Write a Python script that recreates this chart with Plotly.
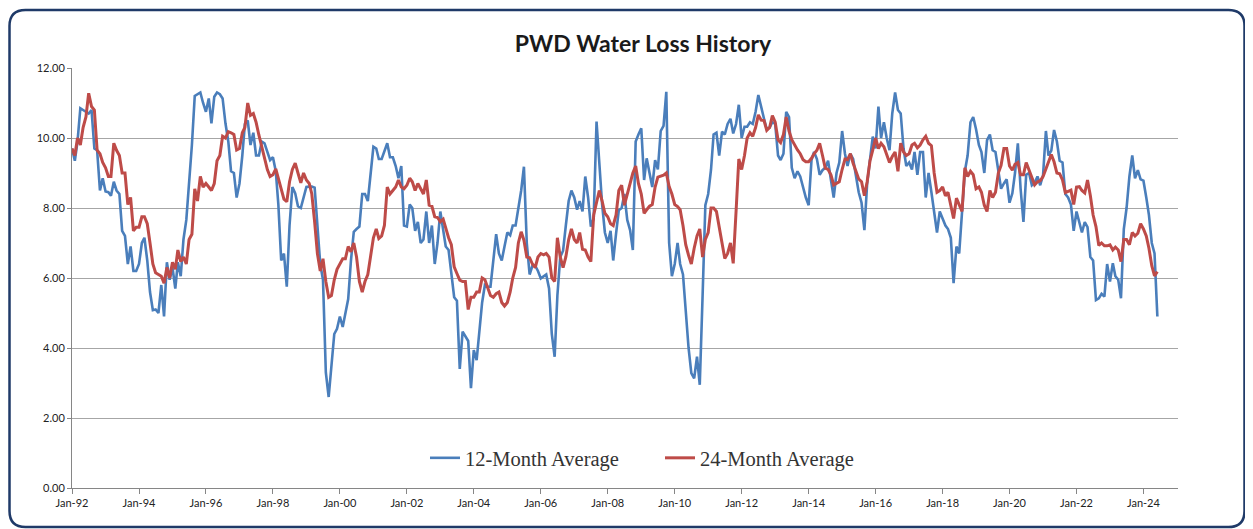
import pandas as pd
import plotly.graph_objects as go

# The page body has an 8px margin, so figure coordinates = screen coordinates - 8
OFF = 8
W, H = 1245, 521
ML, MR, MT, MB = 64, 75, 60, 41

dates = pd.date_range("1992-01-01", periods=390, freq="MS")

twelve_month = [
    9.7, 9.35, 9.9, 10.85, 10.8, 10.75, 10.7, 10.8, 9.7, 9.65, 8.5, 8.85, 8.47, 8.45, 8.35, 8.75, 8.5, 8.4, 7.35, 7.2,
    6.4, 6.9, 6.2, 6.2, 6.4, 7.0, 7.15, 6.5, 5.6, 5.08, 5.1, 5.0, 5.8, 4.9, 6.45, 5.95, 6.3, 5.7,
    6.45, 6.05, 7.1, 7.66, 8.7, 9.8, 11.2, 11.25, 11.3, 11.0, 10.75, 11.13, 10.42, 11.18, 11.3, 11.25, 11.13, 10.42,
    9.9, 9.05, 9.0, 8.3, 8.7, 9.5, 10.4, 10.5, 9.8, 10.15, 9.5, 9.5, 9.9, 9.85, 9.6, 9.37, 9.45,
    9.05, 8.1, 6.5, 6.7, 5.75, 7.5, 8.6, 8.42, 8.05, 8.0, 8.28, 8.6, 8.61, 8.61, 8.58, 7.6, 6.4, 5.95, 3.3, 2.6,
    3.4, 4.4, 4.55, 4.9, 4.6, 5.0, 5.4, 6.5, 7.32, 7.4, 7.47, 8.4, 8.4, 8.2, 8.9, 9.75,
    9.7, 9.4, 9.4, 9.6, 9.85, 9.45, 9.45, 9.2, 8.85, 9.2, 7.5, 7.47, 8.1, 8.0, 7.35, 7.6, 7.0, 7.1, 7.9, 7.0,
    7.5, 6.4, 7.0, 7.9, 7.35, 6.9, 6.8, 6.2, 5.45, 5.35, 3.4, 4.47, 4.35, 4.2, 2.85, 3.94,
    3.65, 4.4, 5.3, 5.8, 5.75, 5.75, 6.6, 7.25, 6.7, 6.5, 6.9, 7.3, 7.22, 7.5, 7.5, 8.0, 8.5, 9.18, 7.0, 6.1,
    6.35, 6.35, 6.2, 5.99, 6.05, 6.1, 5.7, 4.4, 3.75, 5.5, 6.6, 6.78, 7.5, 8.2, 8.5, 8.3,
    7.95, 8.2, 7.9, 8.9, 8.3, 7.47, 7.7, 10.47, 9.3, 8.1, 7.3, 7.0, 7.35, 6.5, 7.27, 7.94, 8.0, 8.4, 7.66, 7.37,
    6.8, 9.9, 10.1, 10.28, 8.8, 9.42, 9.0, 8.6, 9.37, 9.1, 10.2, 10.35, 11.32, 7.0, 6.05, 6.4,
    7.0, 6.4, 6.1, 5.1, 4.0, 3.28, 3.13, 3.75, 2.95, 5.5, 8.08, 8.4, 9.1, 10.1, 10.15, 9.5, 10.18, 10.1, 10.4, 10.55,
    10.13, 10.4, 10.95, 10.0, 10.32, 10.32, 10.45, 10.4, 10.75, 11.23, 10.85, 10.55, 10.25, 10.3, 10.45, 10.4,
    9.5, 9.37, 9.55, 10.75, 10.6, 9.15, 8.85, 9.05, 8.9, 8.55, 8.3, 8.08, 9.37, 9.6, 9.4, 8.95, 9.08, 9.15, 9.35, 8.8,
    8.3, 9.0, 9.3, 10.2, 9.55, 9.2, 9.55, 9.4, 8.95, 8.45, 8.15, 7.37, 8.7, 9.4, 10.04, 9.7,
    10.9, 10.0, 10.45, 10.0, 9.65, 10.7, 11.3, 10.8, 10.7, 9.7, 9.2, 9.3, 9.1, 9.6, 8.95, 9.6, 9.6, 8.3, 9.0, 8.45,
    7.85, 7.3, 7.9, 7.7, 7.5, 7.4, 7.15, 5.85, 6.9, 6.7, 7.8, 9.05, 9.5, 10.45, 10.6, 10.25,
    9.8, 9.6, 9.0, 9.94, 10.1, 9.65, 9.6, 9.04, 8.55, 8.7, 8.82, 8.15, 8.42, 9.0, 9.85, 8.55, 7.6, 8.95, 9.0, 8.65,
    8.72, 8.9, 8.65, 8.94, 10.2, 9.5, 9.64, 10.23, 9.9, 9.35, 9.3, 8.4, 8.3, 8.1, 7.35, 7.9,
    7.55, 7.3, 7.6, 7.45, 6.6, 6.5, 5.37, 5.42, 5.55, 5.47, 6.4, 5.9, 6.42, 6.05, 5.95, 5.42, 7.4, 8.0, 8.9, 9.5,
    8.85, 9.08, 8.82, 8.78, 8.3, 7.8, 7.0, 6.7, 4.9,
]

twenty_four_month = [
    9.7, 9.5, 10.0, 9.8, 10.3, 10.6, 11.28, 10.9, 10.8, 9.65, 9.55, 9.3, 9.15, 8.9, 8.9, 9.85, 9.65, 9.5, 9.0, 9.0,
    8.1, 8.3, 7.35, 7.45, 7.45, 7.75, 7.75, 7.55, 7.0, 6.4, 6.15, 6.1, 6.05, 5.85, 6.3, 6.0, 6.45, 6.25,
    6.8, 6.47, 6.6, 6.4, 7.1, 7.25, 8.55, 8.2, 8.9, 8.6, 8.7, 8.6, 8.5, 8.7, 9.35, 9.5, 10.05, 10.0, 10.18, 10.15,
    10.1, 9.66, 9.7, 10.15, 10.3, 11.0, 10.65, 10.7, 10.45, 10.08, 9.75, 9.45, 9.1, 8.9, 8.95,
    9.12, 8.85, 8.6, 8.25, 8.18, 8.75, 9.1, 9.28, 9.0, 8.72, 9.0, 8.8, 8.7, 8.4, 7.6, 6.7, 6.2, 6.55, 5.9, 5.45,
    5.5, 5.95, 6.25, 6.4, 6.55, 6.55, 6.9, 6.75, 7.0, 6.6, 5.9, 5.6, 5.9, 6.1, 6.6, 7.15,
    7.4, 7.13, 7.2, 7.5, 8.6, 8.4, 8.5, 8.6, 8.8, 8.6, 8.55, 8.65, 8.85, 8.75, 8.5, 8.7, 8.55, 8.4, 8.8, 8.08,
    8.05, 7.75, 7.73, 7.61, 7.68, 7.4, 7.15, 6.95, 6.32, 6.13, 5.94, 5.9, 5.9, 5.1, 5.45, 5.45,
    5.6, 5.6, 6.0, 5.95, 5.72, 5.5, 5.45, 5.55, 5.6, 5.3, 5.2, 5.3, 5.6, 6.0, 6.3, 7.0, 7.32, 7.08, 6.6, 6.58,
    6.4, 6.3, 6.6, 6.7, 6.66, 6.7, 6.6, 6.0, 5.9, 7.15, 6.6, 6.3, 6.6, 7.1, 7.4, 7.1,
    7.0, 7.3, 6.82, 6.8, 6.6, 6.47, 7.8, 8.2, 8.5, 8.2, 7.85, 7.75, 7.55, 7.5, 7.8, 8.5, 8.65, 8.08, 8.4, 8.65,
    9.0, 9.2, 8.7, 8.4, 7.85, 7.95, 8.05, 8.1, 8.6, 8.88, 8.9, 8.94, 9.0, 8.61, 8.4, 8.1,
    8.04, 7.95, 7.5, 6.95, 6.65, 6.4, 6.85, 7.2, 7.4, 6.6, 7.1, 7.3, 8.0, 8.0, 7.9, 7.4, 7.0, 6.56, 6.7, 7.0,
    6.42, 7.9, 9.4, 9.1, 9.5, 10.0, 10.15, 10.05, 10.3, 10.66, 10.51, 10.5, 10.22, 10.3, 10.64, 10.45,
    9.95, 9.87, 10.1, 10.6, 10.2, 9.95, 9.78, 9.66, 9.55, 9.38, 9.32, 9.32, 9.42, 9.55, 9.65, 9.85, 9.5, 9.14, 9.1, 8.95,
    8.66, 8.7, 8.75, 9.1, 9.4, 9.38, 9.55, 9.28, 9.05, 8.83, 8.75, 8.35, 8.75, 9.35, 9.65, 10.0,
    9.7, 9.85, 9.75, 9.55, 9.3, 9.47, 9.6, 9.05, 9.85, 9.6, 9.5, 9.55, 9.8, 9.85, 9.72, 9.8, 9.95, 10.05, 9.85, 9.78,
    9.0, 8.45, 8.5, 8.6, 8.35, 8.45, 8.05, 7.7, 8.28, 8.1, 7.9, 9.15, 8.9, 9.05, 8.95, 8.55,
    8.6, 8.45, 8.08, 7.9, 8.5, 8.3, 8.45, 9.0, 9.22, 9.7, 9.7, 9.2, 9.08, 9.25, 9.3, 8.95, 8.95, 9.3, 9.08, 8.88,
    8.66, 8.75, 8.78, 8.9, 9.1, 9.3, 9.53, 9.32, 9.0, 8.98, 8.8, 8.44, 8.48, 8.51, 8.1, 8.6,
    8.61, 8.5, 8.43, 8.8, 8.35, 7.8, 7.47, 6.93, 7.0, 6.92, 6.92, 6.95, 6.8, 6.88, 6.8, 6.47, 7.1, 7.1, 6.95, 7.3,
    7.2, 7.28, 7.55, 7.4, 7.2, 6.85, 6.35, 6.06, 6.18,
]

series_names = ["12-Month Average", "24-Month Average"]
series_colors = ["#4A7EBB", "#BE4B48"]

fig = go.Figure()
fig.add_trace(go.Scatter(x=dates, y=twelve_month, mode="lines", name=series_names[0],
                         line=dict(color=series_colors[0], width=2.6)))
fig.add_trace(go.Scatter(x=dates, y=twenty_four_month, mode="lines", name=series_names[1],
                         line=dict(color=series_colors[1], width=3)))

pw = W - ML - MR
ph = H - MT - MB


def px(x_screen):
    return (x_screen - OFF - ML) / pw


def py(y_screen):
    return (H - MB - (y_screen - OFF)) / ph


# rounded outer frame (screen coordinates)
L, R, T, B, r = 9.5, 1244.5, 10, 527, 16
path = (
    f"M {px(L + r)},{py(T)} L {px(R - r)},{py(T)} Q {px(R)},{py(T)} {px(R)},{py(T + r)} "
    f"L {px(R)},{py(B - r)} Q {px(R)},{py(B)} {px(R - r)},{py(B)} "
    f"L {px(L + r)},{py(B)} Q {px(L)},{py(B)} {px(L)},{py(B - r)} "
    f"L {px(L)},{py(T + r)} Q {px(L)},{py(T)} {px(L + r)},{py(T)} Z"
)
fig.add_shape(type="path", path=path, xref="paper", yref="paper",
              line=dict(color="#1F3A68", width=2.5), layer="above")

fig.update_layout(
    width=W, height=H,
    margin=dict(l=ML, r=MR, t=MT, b=MB),
    paper_bgcolor="white", plot_bgcolor="white",
    title=dict(text="<b>PWD Water Loss History</b>", x=(643 - OFF) / W, xref="container", xanchor="center",
               y=1 - (44 - OFF) / H, yref="container", yanchor="middle",
               font=dict(family="Lato, Open Sans, sans-serif", size=23, color="#1a1a1a")),
    legend=dict(orientation="h", x=px(660), xanchor="center", y=py(458), yanchor="middle",
                font=dict(family="Liberation Serif, serif", size=20.5, color="#333333"),
                entrywidth=190, entrywidthmode="pixels",
                bgcolor="rgba(0,0,0,0)"),
    xaxis=dict(type="date", range=["1992-01-01", "2025-01-12"], tick0="1992-01-01", dtick="M24",
               tickformat="%b-%y", showline=True, linecolor="#868686", linewidth=1,
               ticks="outside", ticklen=5, tickcolor="#868686", showgrid=False,
               tickfont=dict(family="Lato, sans-serif", size=11, color="#222222")),
    yaxis=dict(range=[0, 12], dtick=2, tickformat=".2f", showline=True, linecolor="#868686",
               linewidth=1, ticks="outside", ticklen=4, tickcolor="#868686",
               gridcolor="#A6A6A6", gridwidth=1, zeroline=False,
               tickfont=dict(family="Lato, sans-serif", size=11, color="#222222")),
)

fig.write_html("out.html")
